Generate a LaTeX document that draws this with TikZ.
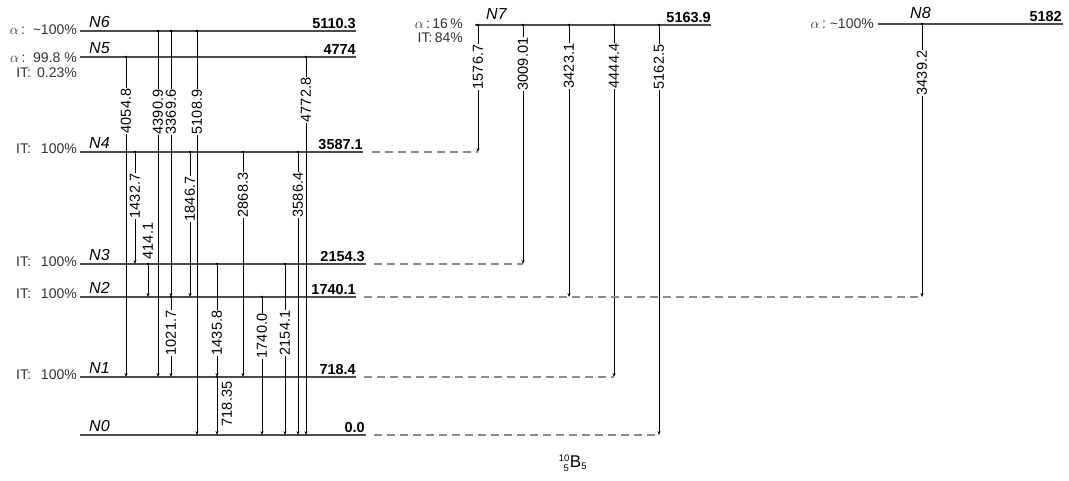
\documentclass[tikz,border=0pt]{standalone}
\usepackage{fontspec}
\setmainfont{Liberation Sans}
\usetikzlibrary{arrows.meta}
\newcommand\trn[6]{%
  \coordinate (#1s) at (#2,#3);
  \coordinate (#1e) at (#2,#4);
  \draw[trans] (#1s) -- (#1e);
  \fill (#1s) circle (1.3);
  \node[tlab] (#1l) at (#2,#6) {#5};}
\begin{document}
\begin{tikzpicture}[x=1pt,y=-1pt,
  lev/.style={line width=1.7pt, draw=black!70},
  dlev/.style={line width=1.7pt, draw=black!45, dash pattern=on 8pt off 5pt},
  trans/.style={line width=0.85pt, draw=black, -{Stealth[length=4pt,width=3pt]}},
  tlab/.style={rotate=90, fill=white, inner sep=0.6pt, font=\fontsize{14.5}{14.5}\selectfont},
  val/.style={anchor=base east, font=\fontsize{14.5}{14.5}\selectfont\bfseries, inner sep=0pt},
  lname/.style={anchor=base west, font=\fontsize{16}{16}\selectfont\itshape, inner sep=0pt},
  side/.style={anchor=east, font=\fontsize{14}{14}\selectfont, text=black!80, inner sep=0pt, align=left},
]
\useasboundingbox (0,0) rectangle (1069,480);

% levels
\coordinate (N6a) at (80,31);  \coordinate (N6b) at (356,31);
\coordinate (N5a) at (80,57);  \coordinate (N5b) at (356,57);
\coordinate (N4a) at (80,152); \coordinate (N4b) at (363,152);
\coordinate (N3a) at (80,264); \coordinate (N3b) at (366,264);
\coordinate (N2a) at (80,297); \coordinate (N2b) at (356,297);
\coordinate (N1a) at (80,377); \coordinate (N1b) at (356,377);
\coordinate (N0a) at (80,435); \coordinate (N0b) at (366,435);
\coordinate (N7a) at (475,25); \coordinate (N7b) at (711,25);
\coordinate (N8a) at (878,24); \coordinate (N8b) at (1063,24);
\foreach \n in {N6,N5,N4,N3,N2,N1,N0,N7,N8} {\draw[lev] (\n a) -- (\n b);}

% level names
\node[lname] (nN6) at (89,27) {N6};
\node[lname] (nN5) at (89,53) {N5};
\node[lname] (nN4) at (89,148) {N4};
\node[lname] (nN3) at (89,260) {N3};
\node[lname] (nN2) at (89,293) {N2};
\node[lname] (nN1) at (89,373) {N1};
\node[lname] (nN0) at (89,431) {N0};
\node[lname] (nN7) at (486,19) {N7};
\node[lname] (nN8) at (910,18) {N8};

% level values
\node[val] (vN6) at (356,28) {5110.3};
\node[val] (vN5) at (356,54) {4774};
\node[val] (vN4) at (363,149) {3587.1};
\node[val] (vN3) at (365,261) {2154.3};
\node[val] (vN2) at (356,294) {1740.1};
\node[val] (vN1) at (356,374) {718.4};
\node[val] (vN0) at (365,432) {0.0};
\node[val] (vN7) at (711,22) {5163.9};
\node[val] (vN8) at (1062,21) {5182};

% side labels
\node[side] (sN6) at (77,30) {$\alpha$\,:\ \ {\char`\~}100\%};
\node[side] (sN5a) at (77,58) {$\alpha$\,:\ \ 99.8 \%};
\node[side] (sN5b) at (77,73) {IT:\hspace{6pt}0.23\%};
\node[side] (sN4) at (77,149) {IT:\hspace{10pt}100\%};
\node[side] (sN3) at (77,262) {IT:\hspace{10pt}100\%};
\node[side] (sN2) at (77,294) {IT:\hspace{10pt}100\%};
\node[side] (sN1) at (77,375) {IT:\hspace{10pt}100\%};
\node[side] (sN7a) at (463,24) {$\alpha$\,:\,16\,\%};
\node[side] (sN7b) at (463,38) {IT:\,84\%};
\node[side] (sN8) at (874,24) {$\alpha$\,:\ {\char`\~}100\%};

% transitions
\trn{t4054}{126}{57}{377}{4054.8}{111}
\trn{t4390}{158}{31}{377}{4390.9}{112}
\trn{t3369}{171}{31}{297}{3369.6}{112}
\trn{t5108}{197}{31}{435}{5108.9}{112}
\trn{t4772}{306}{57}{435}{4772.8}{100}
\trn{t1432}{135}{152}{264}{1432.7}{196}
\trn{t414}{148}{264}{297}{414.1}{241}
\trn{t1846}{190}{152}{297}{1846.7}{199}
\trn{t2868}{243}{152}{377}{2868.3}{195}
\trn{t3586}{298}{152}{435}{3586.4}{195}
\trn{t1435}{217}{264}{377}{1435.8}{333}
\trn{t2154}{285}{264}{435}{2154.1}{333}
\trn{t1740}{262}{297}{435}{1740.0}{336}
\trn{t1021}{171}{297}{377}{1021.7}{333}
\coordinate (t718s) at (217,377); \coordinate (t718e) at (217,435);
\draw[trans] (t718s) -- (t718e);
\fill (t718s) circle (1.3);
\node[tlab, fill=none] (t718l) at (227,404) {718.35};

\trn{t1576}{478}{25}{152}{1576.7}{67}
\trn{t3009}{523}{25}{264}{3009.01}{64}
\trn{t3423}{569}{25}{297}{3423.1}{66}
\trn{t4444}{614}{25}{377}{4444.4}{66}
\trn{t5162}{659}{25}{435}{5162.5}{67}
\trn{t3439}{922}{24}{297}{3439.2}{73}

% dashed connectors
\coordinate (d4) at (372,152);
\coordinate (d3) at (374,264);
\coordinate (d2) at (364,297);
\coordinate (d1) at (364,377);
\coordinate (d0) at (374,435);
\draw[dlev] (d4) -- (t1576e);
\draw[dlev] (d3) -- (t3009e);
\draw[dlev] (d2) -- (t3439e);
\draw[dlev] (d1) -- (t4444e);
\draw[dlev] (d0) -- (t5162e);

% nuclide
\node (iso) at (573,463) {\fontsize{17}{17}\selectfont$^{\hbox to 10pt{\hfill\fontsize{9.5}{9.5}\selectfont 10}}_{\hbox to 10pt{\hfill\fontsize{9.5}{9.5}\selectfont 5}}$\kern0.5pt B$_{\hbox{\fontsize{9.5}{9.5}\selectfont 5}}$};
\end{tikzpicture}
\end{document}
